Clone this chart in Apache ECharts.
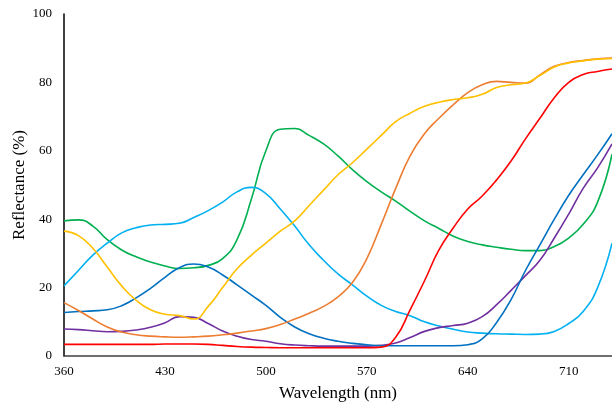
<!DOCTYPE html>
<html>
<head>
<meta charset="utf-8">
<script src="https://cdn.jsdelivr.net/npm/echarts@6/dist/echarts.min.js"></script>
<style>
  html, body { margin: 0; padding: 0; background: #fff; }
  #chart { width: 612px; height: 406px; }
</style>
</head>
<body>
<div id="chart"></div>
<script>
// Wavelength samples (nm)
const wavelengths = [360,370,380,390,400,410,420,430,440,450,460,470,480,490,500,510,520,530,540,550,560,570,580,590,600,610,620,630,640,650,660,670,680,690,700,710,720,730,740];

// Reflectance spectra (%), one array per sample
const green = [39.5,39.8,38,34,31,29,27.5,26.3,25.6,25.8,26.5,28.5,34,46,60,66.3,66.5,64.5,62,58.5,54.5,51,48,45.3,42.3,39.5,37.3,35,33.5,32.5,31.8,31.2,30.8,30.8,32,34.5,38.5,45,59];
const skyBlue = [20.5,25,29.5,33,36,37.5,38.3,38.5,38.8,40.5,42.5,45,48,49.3,47.5,43,38,32.5,28,24,20.8,17.5,14.8,13,11.8,10,8.8,7.8,7,6.7,6.5,6.4,6.3,6.4,7.2,9.5,13,20,33];
const yellow = [36.5,35.2,31.5,26,20.5,16.3,13.5,12.2,11.8,10.8,14.5,20,25.5,29.5,33,36.5,39.5,44,48.5,53,56.5,60.5,64.5,68.5,71,73,74.2,75,75.5,76.5,78.5,79.3,79.8,82,84.5,85.7,86.3,86.8,87];
const orange = [15.6,13.3,10.8,8.5,7,6.2,5.8,5.6,5.5,5.6,5.8,6.2,6.7,7.3,8,9.2,10.8,12.5,14.5,17.3,21.5,28.5,38.5,49,58.5,65,69.5,73.5,77,79.3,80.3,80,79.8,82.2,84.7,85.8,86.4,86.9,87.1];
const red = [3.4,3.4,3.4,3.4,3.4,3.4,3.4,3.5,3.5,3.5,3.4,3.1,2.8,2.6,2.5,2.4,2.4,2.4,2.4,2.4,2.4,2.4,2.6,5.5,13.5,22,31,37.5,43,46.8,51.5,57,63.5,69.5,75.5,80,82.3,83.2,83.9];
const blue = [12.7,13,13.2,13.5,14.7,17,19.8,23,25.8,26.9,26,23.7,20.8,17.8,14.8,11.3,8.5,6.5,5.2,4.3,3.7,3.3,3,3,3,3,3,3,3.3,5,9.8,16.5,25,32.5,40,47,53,58.8,65];
const purple = [7.9,7.7,7.4,7.1,7.2,7.6,8.4,9.7,11.5,11.3,9.5,7.3,5.8,4.8,4.3,3.6,3.2,3,2.9,2.9,2.9,2.9,3.1,3.8,5.4,7.2,8.3,8.9,9.6,11.5,15,19.2,23.5,28,34.5,41.5,49,55,62];

const yTicks = [0, 20, 40, 60, 80, 100];

const spectra = [
  { name: 'Green', data: green, color: '#00B050' },
  { name: 'Sky blue', data: skyBlue, color: '#00B0F0' },
  { name: 'Purple', data: purple, color: '#7030A0' },
  { name: 'Blue', data: blue, color: '#0070C0' },
  { name: 'Orange', data: orange, color: '#ED7D31' },
  { name: 'Yellow', data: yellow, color: '#FFC000' },
  { name: 'Red', data: red, color: '#FF0000' }
];

const font = '"Liberation Serif", "Times New Roman", serif';
const chart = echarts.init(document.getElementById('chart'));

chart.setOption({
  animation: false,
  grid: { left: 64, right: 0, top: 14, bottom: 50, containLabel: false, outerBoundsMode: 'none' },
  xAxis: {
    type: 'value',
    min: 360,
    max: 740,
    interval: 70,
    name: 'Wavelength (nm)',
    nameLocation: 'middle',
    nameGap: 29,
    nameMoveOverlap: false,
    nameTextStyle: { fontFamily: font, fontSize: 17, color: '#000' },
    axisLine: { show: true, lineStyle: { color: '#404040', width: 1.5 } },
    axisTick: { show: false },
    splitLine: { show: false },
    axisLabel: { fontFamily: font, fontSize: 13, color: '#000', margin: 9, showMaxLabel: false }
  },
  yAxis: {
    type: 'value',
    min: yTicks[0],
    max: yTicks[yTicks.length - 1],
    interval: 20,
    name: 'Reflectance (%)',
    nameLocation: 'middle',
    nameGap: 44,
    nameMoveOverlap: false,
    nameRotate: 90,
    nameTextStyle: { fontFamily: font, fontSize: 17, color: '#000', verticalAlign: 'middle' },
    axisLine: { show: true, lineStyle: { color: '#000', width: 1.5 } },
    axisTick: { show: false },
    splitLine: { show: false },
    axisLabel: { fontFamily: font, fontSize: 13, color: '#000', margin: 12 }
  },
  series: spectra.map(s => ({
    name: s.name,
    type: 'line',
    smooth: 0.5,
    symbol: 'none',
    clip: true,
    lineStyle: { color: s.color, width: 1.6 },
    data: wavelengths.map((w, i) => [w, s.data[i]])
  }))
});
</script>
</body>
</html>
